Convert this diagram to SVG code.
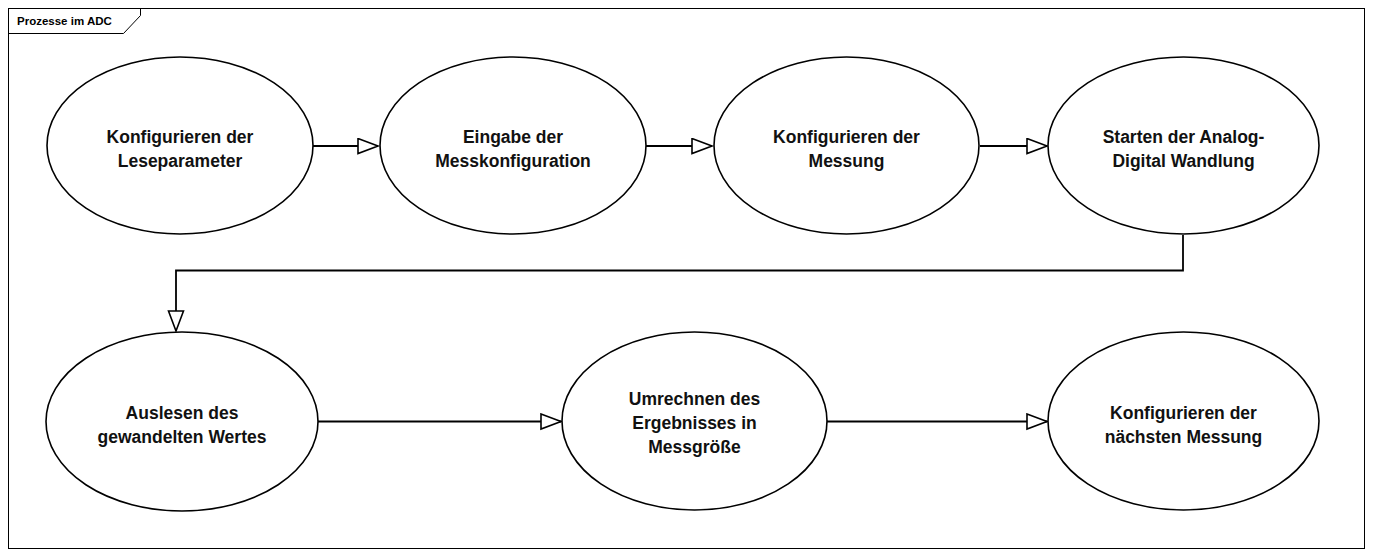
<svg xmlns="http://www.w3.org/2000/svg" width="1373" height="556" viewBox="0 0 1373 556">
<style>
.node ellipse{fill:#fff;stroke:#000;stroke-width:1.6}
.node text{font-family:"Liberation Sans",Arial,sans-serif;font-weight:bold;font-size:17.5px;fill:#111;text-anchor:middle}
.conn{fill:none;stroke:#000;stroke-width:1.8}
.frame{fill:none;stroke:#000;stroke-width:1}
.title{font-family:"Liberation Sans",Arial,sans-serif;font-weight:bold;font-size:11.5px;fill:#000}
</style>
<defs>
<marker id="arr" markerUnits="userSpaceOnUse" markerWidth="24" markerHeight="20" refX="21" refY="8.5" orient="auto">
<path d="M1,1 L21,8.5 L1,16 Z" fill="#fff" stroke="#000" stroke-width="1.6"/>
</marker>
</defs>
<rect width="1373" height="556" fill="#fff"/>
<g id="frame">
<rect class="frame" x="8.5" y="8.5" width="1356" height="540"/>
<path class="frame" d="M8.5,33.5 H123.5 L140.5,15.5 V8.5"/>
<text class="title" x="17" y="25">Prozesse im ADC</text>
</g>
<g id="connectors">
<line class="conn" x1="313" y1="146" x2="378" y2="146" marker-end="url(#arr)"/>
<line class="conn" x1="646" y1="146" x2="712" y2="146" marker-end="url(#arr)"/>
<line class="conn" x1="980" y1="146" x2="1047" y2="146" marker-end="url(#arr)"/>
<polyline class="conn" points="1183,235 1183,270.5 176,270.5 176,331" marker-end="url(#arr)"/>
<line class="conn" x1="318" y1="421.5" x2="561" y2="421.5" marker-end="url(#arr)"/>
<line class="conn" x1="827" y1="421.5" x2="1047" y2="421.5" marker-end="url(#arr)"/>
</g>
<g id="n1" class="node">
<ellipse cx="180" cy="145.5" rx="133" ry="88.5"/>
<text x="180" y="143">Konfigurieren der</text>
<text x="180" y="167">Leseparameter</text>
</g>
<g id="n2" class="node">
<ellipse cx="513" cy="145.5" rx="133" ry="88.5"/>
<text x="513" y="143">Eingabe der</text>
<text x="513" y="167">Messkonfiguration</text>
</g>
<g id="n3" class="node">
<ellipse cx="846.5" cy="145.5" rx="132.5" ry="88.5"/>
<text x="846.5" y="143">Konfigurieren der</text>
<text x="846.5" y="167">Messung</text>
</g>
<g id="n4" class="node">
<ellipse cx="1183.5" cy="145.5" rx="135.5" ry="88.5"/>
<text x="1183.5" y="143">Starten der Analog-</text>
<text x="1183.5" y="167">Digital Wandlung</text>
</g>
<g id="n5" class="node">
<ellipse cx="182" cy="421.5" rx="136" ry="89.5"/>
<text x="182" y="419">Auslesen des</text>
<text x="182" y="443">gewandelten Wertes</text>
</g>
<g id="n6" class="node">
<ellipse cx="694.5" cy="421" rx="132.5" ry="89"/>
<text x="694.5" y="405">Umrechnen des</text>
<text x="694.5" y="429">Ergebnisses in</text>
<text x="694.5" y="453">Messgröße</text>
</g>
<g id="n7" class="node">
<ellipse cx="1183.5" cy="421" rx="135.5" ry="89"/>
<text x="1183.5" y="419">Konfigurieren der</text>
<text x="1183.5" y="443">nächsten Messung</text>
</g>
</svg>
